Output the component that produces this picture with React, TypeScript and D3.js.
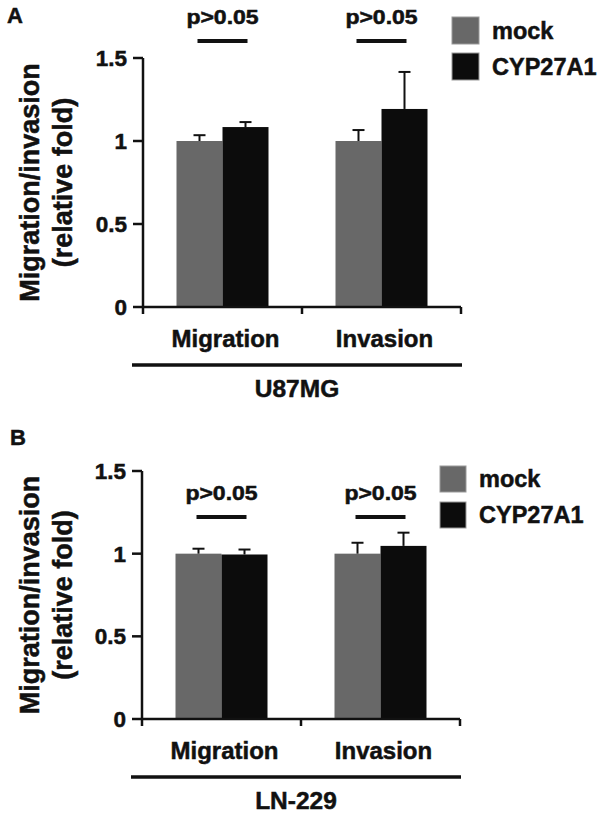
import React from "react";
import * as d3 from "d3";

const groups = ["Migration", "Invasion"];
const seriesNames = ["mock", "CYP27A1"];
const yTicks = [0, 0.5, 1, 1.5];
const yTickLabels = ["0", "0.5", "1", "1.5"];
const pLabels = ["p>0.05", "p>0.05"];

const u87Mock = [1.0, 1.0];
const u87MockErr = [0.035, 0.066];
const u87Cyp = [1.084, 1.193];
const u87CypErr = [0.03, 0.223];

const lnMock = [1.0, 1.0];
const lnMockErr = [0.03, 0.066];
const lnCyp = [0.995, 1.047];
const lnCypErr = [0.03, 0.08];

const colors = ["#686868", "#0c0c0c"];
const FONT = "'Liberation Sans', Arial, Helvetica, sans-serif";

type PanelProps = {
  letter: string;
  letterX: number;
  letterY: number;
  cellLine: string;
  y0: number;
  y15: number;
  xL: number;
  xR: number;
  mock: number[];
  mockErr: number[];
  cyp: number[];
  cypErr: number[];
  sigY: number;
  legX: number;
  legY: number;
  legSize: number;
  legGap: number;
};

function Panel(p: PanelProps) {
  const y = d3.scaleLinear().domain([0, 1.5]).range([p.y0, p.y15]);
  const xg = d3.scaleBand().domain(groups).range([p.xL, p.xR]);
  const xi = d3.scaleBand().domain(seriesNames).range([-46, 46]);
  const vals = [p.mock, p.cyp];
  const errs = [p.mockErr, p.cypErr];
  const cy = (p.y0 + p.y15) / 2;
  const ulL = p.xL - 11;
  const ulR = p.xR + 1;
  return (
    <g fontFamily={FONT} fontWeight="bold" fill="#111" stroke="#111" strokeWidth={0.5}>
      <text x={p.letterX} y={p.letterY} fontSize={22}>{p.letter}</text>
      {/* y title */}
      <text transform={`translate(39,${cy}) rotate(-90)`} textAnchor="middle" fontSize={27}>Migration/invasion</text>
      <text transform={`translate(72,${cy}) rotate(-90)`} textAnchor="middle" fontSize={27}>(relative fold)</text>
      {/* bars */}
      {groups.map((g, gi) =>
        seriesNames.map((s, si) => {
          const x0 = (xg(g) as number) + xg.bandwidth() / 2 + (xi(s) as number);
          const w = xi.bandwidth();
          const v = vals[si][gi];
          const e = errs[si][gi];
          const cx = x0 + w / 2;
          return (
            <g key={g + s}>
              <rect x={x0} y={y(v)} width={w} height={p.y0 - y(v)} fill={colors[si]} stroke="none" />
              <line x1={cx} x2={cx} y1={y(v)} y2={y(v + e)} stroke="#111" strokeWidth={2} />
              <line x1={cx - 6} x2={cx + 6} y1={y(v + e)} y2={y(v + e)} stroke="#111" strokeWidth={2} />
            </g>
          );
        })
      )}
      {/* y axis */}
      <line x1={p.xL} x2={p.xL} y1={p.y15} y2={p.y0 + 7} stroke="#111" strokeWidth={2.5} />
      {yTicks.map((t, i) => (
        <g key={t}>
          <line x1={p.xL - 10} x2={p.xL} y1={y(t)} y2={y(t)} stroke="#111" strokeWidth={2.5} />
          <text x={p.xL - 16} y={y(t)} dy="0.36em" textAnchor="end" fontSize={22.5}>{yTickLabels[i]}</text>
        </g>
      ))}
      {/* x axis */}
      <line x1={p.xL} x2={p.xR} y1={p.y0} y2={p.y0} stroke="#111" strokeWidth={2.5} />
      {groups.map((g) => {
        const xe = (xg(g) as number) + xg.bandwidth();
        return <line key={g} x1={xe} x2={xe} y1={p.y0} y2={p.y0 + 7} stroke="#111" strokeWidth={2.5} />;
      })}
      {groups.map((g) => (
        <text key={g} x={(xg(g) as number) + xg.bandwidth() / 2 + 3} y={p.y0 + 40} textAnchor="middle" fontSize={24}>{g}</text>
      ))}
      <line x1={ulL} x2={ulR} y1={p.y0 + 58} y2={p.y0 + 58} stroke="#111" strokeWidth={3.5} />
      <text x={(ulL + ulR) / 2} y={p.y0 + 90} textAnchor="middle" fontSize={24.5}>{p.cellLine}</text>
      {/* significance */}
      {groups.map((g, gi) => {
        const c = (xg(g) as number) + xg.bandwidth() / 2;
        return (
          <g key={g}>
            <line x1={c - 25} x2={c + 25} y1={p.sigY} y2={p.sigY} stroke="#111" strokeWidth={4} />
            <text transform={`translate(${c},${p.sigY - 17}) scale(1.18,1)`} textAnchor="middle" fontSize={19.5}>{pLabels[gi]}</text>
          </g>
        );
      })}
      {/* legend */}
      {seriesNames.map((s, si) => {
        const ly = p.legY + si * (p.legSize + p.legGap);
        return (
          <g key={s}>
            <rect x={p.legX} y={ly} width={p.legSize} height={p.legSize} fill={colors[si]} stroke="#999" strokeWidth={1} />
            <text x={p.legX + p.legSize + 13} y={ly + p.legSize / 2} dy="0.36em" fontSize={23.5}>{s}</text>
          </g>
        );
      })}
    </g>
  );
}

export default function App() {
  return (
    <svg width={602} height={815} style={{ position: "absolute", left: 0, top: 0, background: "#fff" }}>
      <rect width={602} height={815} fill="#fff" />
      <Panel letter="A" letterX={7} letterY={23} cellLine="U87MG" y0={307} y15={58} xL={143} xR={461}
        mock={u87Mock} mockErr={u87MockErr} cyp={u87Cyp} cypErr={u87CypErr}
        sigY={41} legX={452} legY={17} legSize={27} legGap={9} />
      <Panel letter="B" letterX={10} letterY={445} cellLine="LN-229" y0={719} y15={471} xL={142} xR={460}
        mock={lnMock} mockErr={lnMockErr} cyp={lnCyp} cypErr={lnCypErr}
        sigY={517} legX={440} legY={466} legSize={26} legGap={10} />
    </svg>
  );
}
